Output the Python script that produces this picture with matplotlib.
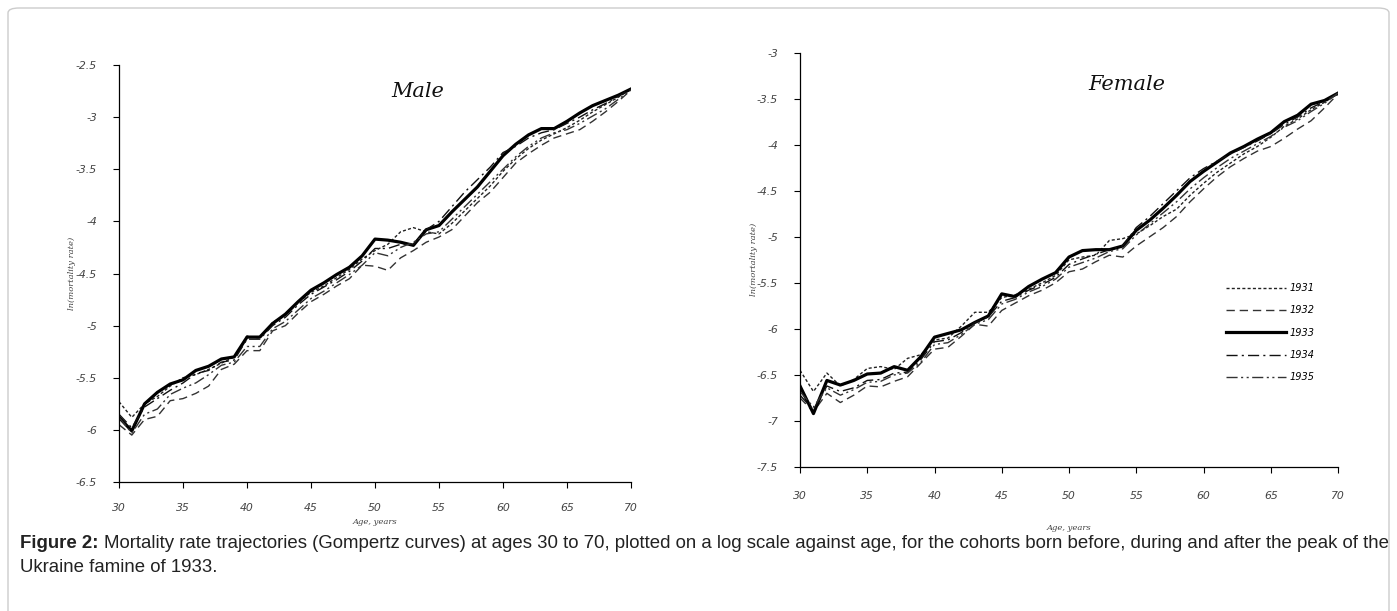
import numpy as np
import matplotlib
matplotlib.use('Agg')
import matplotlib.pyplot as plt
from matplotlib.patches import FancyBboxPatch

ages = list(range(30, 71))
cohorts = ['1931', '1932', '1933', '1934', '1935']

# ln(mortality rate), males, ages 30..70
male_1931 = [-5.73, -5.88, -5.75, -5.68, -5.58, -5.50, -5.47, -5.42, -5.36, -5.30, -5.10,
             -5.12, -4.97, -4.90, -4.78, -4.68, -4.62, -4.54, -4.46, -4.36, -4.28,
             -4.22, -4.10, -4.06, -4.10, -4.12, -4.02, -3.90, -3.78, -3.66, -3.52,
             -3.40, -3.30, -3.22, -3.16, -3.10, -3.03, -2.95, -2.88, -2.81, -2.73]
male_1932 = [-5.95, -6.05, -5.90, -5.87, -5.72, -5.70, -5.65, -5.58, -5.42, -5.37, -5.24,
             -5.24, -5.05, -5.00, -4.88, -4.77, -4.70, -4.62, -4.55, -4.42, -4.43,
             -4.47, -4.35, -4.28, -4.20, -4.15, -4.08, -3.95, -3.82, -3.72, -3.58,
             -3.44, -3.35, -3.27, -3.20, -3.16, -3.12, -3.04, -2.95, -2.85, -2.74]
male_1933 = [-5.88, -6.01, -5.75, -5.64, -5.56, -5.52, -5.43, -5.39, -5.32, -5.30, -5.11,
             -5.11, -4.98, -4.89, -4.77, -4.66, -4.59, -4.51, -4.44, -4.33, -4.17,
             -4.18, -4.20, -4.23, -4.08, -4.04, -3.91, -3.79, -3.67, -3.52, -3.37,
             -3.26, -3.17, -3.11, -3.11, -3.04, -2.96, -2.89, -2.84, -2.79, -2.73]
male_1934 = [-5.85, -5.98, -5.78, -5.70, -5.62, -5.55, -5.46, -5.43, -5.35, -5.33, -5.13,
             -5.13, -5.00, -4.92, -4.80, -4.70, -4.63, -4.56, -4.48, -4.38, -4.26,
             -4.26, -4.22, -4.22, -4.08, -4.00, -3.86, -3.72, -3.60, -3.48, -3.34,
             -3.28, -3.20, -3.15, -3.12, -3.06, -3.00, -2.93, -2.87, -2.80, -2.73]
male_1935 = [-5.88, -6.03, -5.85, -5.80, -5.66, -5.60, -5.55, -5.47, -5.38, -5.35, -5.20,
             -5.20, -5.03, -4.96, -4.85, -4.74, -4.67, -4.59, -4.51, -4.42, -4.30,
             -4.33, -4.25, -4.20, -4.12, -4.10, -3.98, -3.86, -3.74, -3.62, -3.50,
             -3.38, -3.28, -3.20, -3.15, -3.12, -3.06, -2.99, -2.92, -2.83, -2.74]

# ln(mortality rate), females, ages 30..70
female_1931 = [-6.45, -6.68, -6.48, -6.62, -6.55, -6.43, -6.41, -6.44, -6.32, -6.28, -6.12,
               -6.10, -5.97, -5.82, -5.82, -5.66, -5.63, -5.57, -5.50, -5.42, -5.25,
               -5.22, -5.20, -5.04, -5.02, -4.97, -4.88, -4.78, -4.70, -4.55, -4.42,
               -4.30, -4.20, -4.10, -4.02, -3.92, -3.80, -3.72, -3.62, -3.54, -3.44]
female_1932 = [-6.75, -6.90, -6.70, -6.80, -6.72, -6.62, -6.63, -6.57, -6.52, -6.37, -6.22,
               -6.20, -6.08, -5.95, -5.97, -5.80, -5.72, -5.64, -5.58, -5.50, -5.38,
               -5.35, -5.27, -5.20, -5.22, -5.10, -5.00, -4.90, -4.78, -4.62, -4.48,
               -4.35, -4.24, -4.15, -4.07, -4.02, -3.93, -3.83, -3.74, -3.60, -3.45]
female_1933 = [-6.62, -6.92, -6.56, -6.61, -6.56, -6.49, -6.48, -6.41, -6.45, -6.30, -6.09,
               -6.05, -6.01, -5.93, -5.86, -5.62, -5.65, -5.54, -5.46, -5.39, -5.22,
               -5.15, -5.14, -5.14, -5.10, -4.93, -4.82, -4.69, -4.55, -4.40, -4.29,
               -4.19, -4.09, -4.02, -3.94, -3.87, -3.75, -3.68, -3.56, -3.52, -3.44]
female_1934 = [-6.72, -6.88, -6.62, -6.68, -6.64, -6.56, -6.55, -6.48, -6.47, -6.33, -6.14,
               -6.12, -6.04, -5.93, -5.87, -5.70, -5.66, -5.58, -5.52, -5.44, -5.30,
               -5.24, -5.19, -5.14, -5.10, -4.90, -4.78, -4.64, -4.50, -4.36, -4.26,
               -4.18, -4.10, -4.03, -3.96, -3.88, -3.78, -3.70, -3.60, -3.53, -3.44]
female_1935 = [-6.68, -6.85, -6.64, -6.72, -6.66, -6.58, -6.57, -6.50, -6.48, -6.36, -6.17,
               -6.15, -6.06, -5.95, -5.90, -5.73, -5.68, -5.60, -5.54, -5.46, -5.33,
               -5.28, -5.23, -5.16, -5.13, -4.98, -4.86, -4.74, -4.62, -4.48, -4.36,
               -4.25, -4.15, -4.07, -3.99, -3.91, -3.81, -3.74, -3.64, -3.55, -3.44]

male = [male_1931, male_1932, male_1933, male_1934, male_1935]
female = [female_1931, female_1932, female_1933, female_1934, female_1935]

styles = [(0, (2.2, 1.6)), (0, (6, 3.5)), '-', (0, (8, 3, 1.5, 3)), (0, (8, 2.5, 1.5, 2.5, 1.5, 2.5))]
widths = [1.0, 1.0, 2.3, 1.0, 1.0]
colors = ['#222222', '#333333', '#000000', '#111111', '#333333']

tick_font = dict(family='DejaVu Sans', style='italic', size=7.8, color='#444444')

W, H = 1397, 611
fig = plt.figure(figsize=(W / 100, H / 100), dpi=100)

# card border (top edge 8 px below the top, bottom runs off the image)
card = FancyBboxPatch((8 / W, -20 / H), (W - 16) / W, (H - 8 + 20) / H,
                      boxstyle='round,pad=0,rounding_size=0.008',
                      transform=fig.transFigure, facecolor='white',
                      edgecolor='#cccccc', linewidth=1.0, zorder=-10)
fig.patches.append(card)


def panel(rect, data, ylim, yticks, title, tpos, xpad, xlabpad, ylab_x):
    ax = fig.add_axes(rect)
    ax.set_facecolor('none')
    for i, series in enumerate(data):
        ax.plot(ages, series, linestyle=styles[i], linewidth=widths[i],
                color=colors[i], label=cohorts[i])
    ax.set_xlim(30, 70)
    ax.set_ylim(*ylim)
    ax.set_xticks(range(30, 71, 5))
    ax.set_yticks(yticks)
    ax.set_xticklabels([str(v) for v in range(30, 71, 5)], fontdict=tick_font)
    ax.set_yticklabels(['%g' % v for v in yticks], fontdict=tick_font)
    ax.tick_params(axis='x', direction='out', length=4, width=0.8, pad=xpad)
    ax.tick_params(axis='y', direction='out', length=4, width=0.8, pad=12)
    for s in ['top', 'right']:
        ax.spines[s].set_visible(False)
    for s in ['left', 'bottom']:
        ax.spines[s].set_linewidth(0.9)
    ax.set_xlabel('Age, years', family='DejaVu Serif', style='italic', size=6,
                  color='#444444', labelpad=xlabpad)
    ax.set_ylabel('ln(mortality rate)', family='DejaVu Serif', style='italic',
                  size=6, color='#444444')
    ax.yaxis.set_label_coords(ylab_x, 0.5)
    ax.text(tpos[0], tpos[1], title, transform=ax.transAxes, family='DejaVu Serif',
            style='italic', size=15, ha='center', va='center', color='#111111')
    return ax


axm = panel([119 / W, 1 - 482 / H, 512 / W, 417 / H], male, (-6.5, -2.5),
            [-6.5, -6, -5.5, -5, -4.5, -4, -3.5, -3, -2.5], 'Male', (0.584, 0.936),
            11, 4, -0.084)
axf = panel([800 / W, 1 - 467 / H, 538 / W, 414.4 / H], female, (-7.5, -3),
            [-7.5, -7, -6.5, -6, -5.5, -5, -4.5, -4, -3.5, -3], 'Female', (0.607, 0.924),
            13, 17, -0.078)

axf.legend(loc='upper left', bbox_to_anchor=(0.775, 0.465), frameon=False,
           handlelength=6.2, labelspacing=1.27, handletextpad=0.4,
           prop=dict(family='DejaVu Sans', style='italic', size=7))

# caption
cap_y1 = 1 - 543 / H
cap_y2 = 1 - 568 / H
cap_size = 13.4
t1 = fig.text(20 / W, cap_y1, 'Figure 2:', family='Liberation Sans', weight='bold',
              size=cap_size, va='center', ha='left', color='#222222')
fig.canvas.draw()
bb = t1.get_window_extent()
fig.text((bb.x1 + 5) / W, cap_y1,
         'Mortality rate trajectories (Gompertz curves) at ages 30 to 70, plotted on a log scale '
         'against age, for the cohorts born before, during and after the peak of the',
         family='Liberation Sans', size=cap_size, va='center', ha='left', color='#222222')
fig.text(20 / W, cap_y2, 'Ukraine famine of 1933.', family='Liberation Sans',
         size=cap_size, va='center', ha='left', color='#222222')

fig.savefig('out.png', dpi=100)
